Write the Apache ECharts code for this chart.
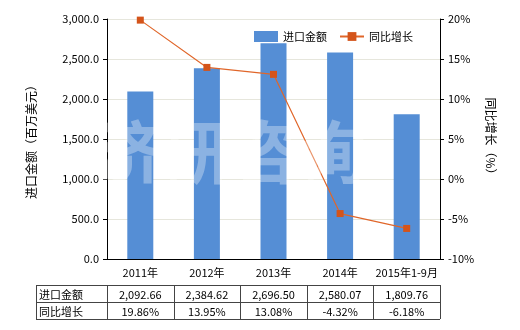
<!DOCTYPE html>
<html><head><meta charset="utf-8">
<script src="https://cdn.jsdelivr.net/npm/echarts@6/dist/echarts.min.js"></script>
<style>html,body{margin:0;padding:0;background:#fff}#c{width:520px;height:330px}</style>
</head><body><div id="c"></div>
<script>
var categories = ['2011年','2012年','2013年','2014年','2015年1-9月'];
var importValues = [2092.66, 2384.62, 2696.50, 2580.07, 1809.76];
var growthValues = [19.86, 13.95, 13.08, -4.32, -6.18];
var leftTicks = [0, 3000, 500];
var rightTicks = [-10, 20, 5];
var seriesNames = ['进口金额', '同比增长'];

var FONT = '"Noto Sans CJK SC", "DejaVu Sans", sans-serif';
var chart = echarts.init(document.getElementById('c'), null, {renderer:'canvas'});

function fmt2(v){ return v.toLocaleString('en-US',{minimumFractionDigits:2,maximumFractionDigits:2}); }

var gx0 = 107, gx1 = 440, tLeft = 36, rowTop = 285, rowH = 17;
var colW = (gx1 - gx0) / categories.length;
var g = [];
g.push({type:'text', left:95, top:118, z:5, silent:true,
  style:{text:'济研咨询', font:'bold 68px "Noto Sans CJK SC"', fill:'rgba(255,255,255,0.32)', letterSpacing:14}});
var lineStyle = {stroke:'#444', lineWidth:1};
var rows = [
  {label: seriesNames[0], vals: importValues.map(fmt2)},
  {label: seriesNames[1], vals: growthValues.map(function(v){return v.toFixed(2)+'%';})}
];
for (var r=0; r<=rows.length; r++) {
  g.push({type:'line', shape:{x1:tLeft, y1:rowTop+r*rowH+0.5, x2:gx1, y2:rowTop+r*rowH+0.5}, style:lineStyle});
}
g.push({type:'line', shape:{x1:tLeft+0.5, y1:rowTop, x2:tLeft+0.5, y2:rowTop+rows.length*rowH}, style:lineStyle});
for (var c=0; c<=categories.length; c++) {
  var x = Math.round(gx0 + c*colW) + 0.5;
  g.push({type:'line', shape:{x1:x, y1:rowTop, x2:x, y2:rowTop+rows.length*rowH}, style:lineStyle});
}
rows.forEach(function(row, ri){
  var cy = rowTop + ri*rowH + rowH/2 + 1;
  g.push({type:'text', x:tLeft+3, y:cy, style:{text:row.label, font:'11px '+FONT, fill:'#000', textVerticalAlign:'middle', textAlign:'left'}});
  row.vals.forEach(function(v, ci){
    g.push({type:'text', x:gx0 + (ci+0.5)*colW, y:cy, style:{text:v, font:'11px '+FONT, fill:'#000', textVerticalAlign:'middle', textAlign:'center'}});
  });
});

chart.setOption({
  animation:false,
  textStyle:{fontFamily:FONT},
  grid:{left:107, right:80, top:19, bottom:71},
  legend:{
    data:[{name:seriesNames[0], icon:'rect'}, {name:seriesNames[1]}],
    top:31, left:252, itemGap:12, itemWidth:24, itemHeight:11,
    backgroundColor:'#fff', padding:[0,2,0,2],
    textStyle:{fontSize:11, color:'#000', fontFamily:FONT}
  },
  xAxis:{
    type:'category', data:categories,
    axisLine:{lineStyle:{color:'#000'}},
    axisTick:{alignWithLabel:true, length:4, lineStyle:{color:'#000'}},
    axisLabel:{color:'#000', fontSize:11, margin:8, interval:0}
  },
  yAxis:[{
    type:'value', min:leftTicks[0], max:leftTicks[1], interval:leftTicks[2],
    name:'进口金额（百万美元）', nameLocation:'middle', nameGap:70, nameRotate:90,
    nameTextStyle:{fontSize:12, color:'#000'},
    axisLine:{show:true, lineStyle:{color:'#000'}},
    axisTick:{show:true, length:4, lineStyle:{color:'#000'}},
    axisLabel:{color:'#000', fontSize:11, formatter:function(v){return v.toLocaleString('en-US',{minimumFractionDigits:1,maximumFractionDigits:1});}},
    splitLine:{lineStyle:{color:'#e6e6dc'}}
  },{
    type:'value', min:rightTicks[0], max:rightTicks[1], interval:rightTicks[2],
    name:'同比增长（%）', nameLocation:'middle', nameGap:44, nameRotate:-90,
    nameTextStyle:{fontSize:12, color:'#000'},
    axisLine:{show:true, lineStyle:{color:'#000'}},
    axisTick:{show:true, length:4, lineStyle:{color:'#000'}},
    axisLabel:{color:'#000', fontSize:11, formatter:'{value}%'},
    splitLine:{show:false}
  }],
  series:[{
    name:seriesNames[0], type:'bar', data:importValues, barWidth:26,
    itemStyle:{color:'#558ed5'}, z:2
  },{
    name:seriesNames[1], type:'line', yAxisIndex:1, data:growthValues,
    symbol:'rect', symbolSize:7,
    lineStyle:{color:'#e0662a', width:1.2},
    itemStyle:{color:'#d4541a'}, z:3
  }],
  graphic:g
});
</script></body></html>
